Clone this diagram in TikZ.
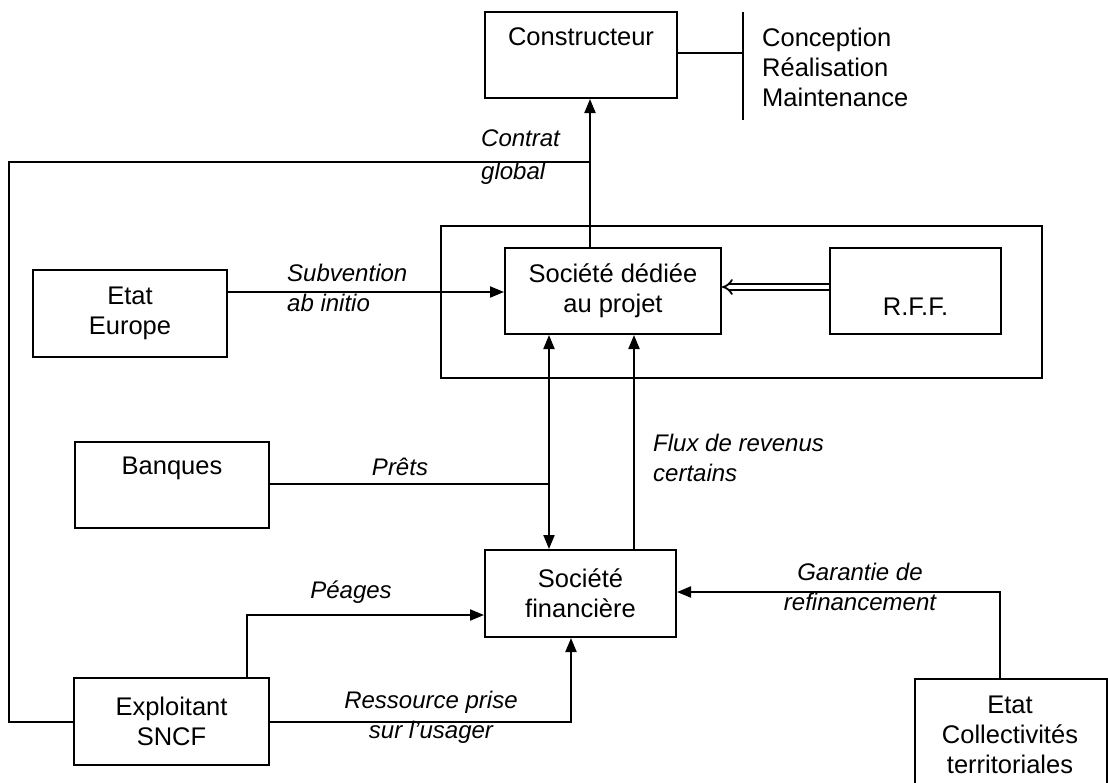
\documentclass[tikz,border=0pt]{standalone}
\usepackage{fontspec}
\setmainfont{Liberation Sans}
\usetikzlibrary{arrows.meta}
\begin{document}
\begin{tikzpicture}[x=1pt,y=-1pt,
  box/.style={draw,line width=2pt,inner sep=0pt},
  txt/.style={font=\fontsize{25.5}{30}\selectfont,align=center,inner sep=0pt},
  lbl/.style={font=\fontsize{24}{30}\selectfont\itshape,inner sep=0pt},
  ln/.style={line width=2pt},
  tip/.tip={Triangle[length=14pt,width=11pt]},
  arr/.style={ln,-tip},
  dbl/.style={line width=1.8pt,double,double distance=3.5pt,-{Implies[scale=2]}},
]
\clip (0,0) rectangle (1108,782);
\fill[white] (0,0) rectangle (1108,782);

% boxes
\node[box,minimum width=192pt,minimum height=86pt] (con) at (581,55) {};
\node[txt] (contxt) at (581,37) {Constructeur};
\node[txt,anchor=west,align=left] (tasks) at (762,67) {Conception\\R\'ealisation\\Maintenance};
\coordinate (bartop) at (743,12);
\coordinate (barbot) at (743,120);

\node[box,minimum width=601pt,minimum height=152pt] (outer) at (741.5,302) {};
\node[box,txt,minimum width=216pt,minimum height=86pt] (dd) at (613,291) {Soci\'et\'e d\'edi\'ee\\au projet};
\node[box,minimum width=171pt,minimum height=86pt] (rff) at (915.5,291) {};
\node[txt] (rfftxt) at (915.5,307) {R.F.F.};

\node[box,txt,minimum width=194pt,minimum height=87pt] (ee) at (130,313.5) {Etat\\Europe};
\node[box,minimum width=194pt,minimum height=86pt] (bq) at (172,485) {};
\node[txt] (bqtxt) at (172,468) {Banques};

\node[box,txt,minimum width=191pt,minimum height=87pt] (fin) at (580.5,593.5) {Soci\'et\'e\\financi\`ere};
\node[box,txt,minimum width=195pt,minimum height=87pt] (ex) at (171.5,721.5) {Exploitant\\SNCF};
\node[box,minimum width=192pt,minimum height=140pt] (ec) at (1011,749) {};
\node[txt] (ectxt) at (1010,734.5) {Etat\\Collectivit\'es\\territoriales};

% connectors
\draw[arr] ([xshift=-23pt]dd.north) -- ([xshift=-23pt]dd.north |- con.south);
\coordinate (ct) at (590,162);
\draw[ln] (ct) -- (9,162) |- (ex.west);
\draw[ln] (con.east |- 0,53) -- (743,53);
\draw[ln] (bartop) -- (barbot);

\draw[arr] (ee.east |- 0,292) -- (dd.west |- 0,292);
\draw[dbl] (rff.west |- 0,287) -- (dd.east |- 0,287);

\draw[ln,tip-tip] (fin.north -| 549,0) -- (dd.south -| 549,0);
\coordinate (pj) at (549,484);
\draw[ln] (bq.east |- pj) -- (pj);
\draw[arr] (fin.north -| 634,0) -- (dd.south -| 634,0);

\draw[arr] (ex.north -| 247,0) |- (fin.west |- 0,615);
\draw[arr] (ex.east |- 0,722) -| (fin.south -| 571,0);
\draw[arr] (ec.north -| 1000,0) |- (fin.east |- 0,592);

% labels
\node[lbl,anchor=west,align=left] (lct) at (481,157) {Contrat\\[3pt]global};
\node[lbl,anchor=west,align=left] (lsub) at (287,287.5) {Subvention\\ab initio};
\node[lbl] (lpr) at (400,467) {Pr\^ets};
\node[lbl,anchor=west,align=left] (lflux) at (653,457.5) {Flux de revenus\\certains};
\node[lbl] (lpeage) at (351,592) {P\'eages};
\node[lbl,align=center] (lres) at (431,717) {Ressource prise\\sur l'usager};
\node[lbl,align=center] (lgar) at (860,587) {Garantie de\\refinancement};
\end{tikzpicture}
\end{document}
